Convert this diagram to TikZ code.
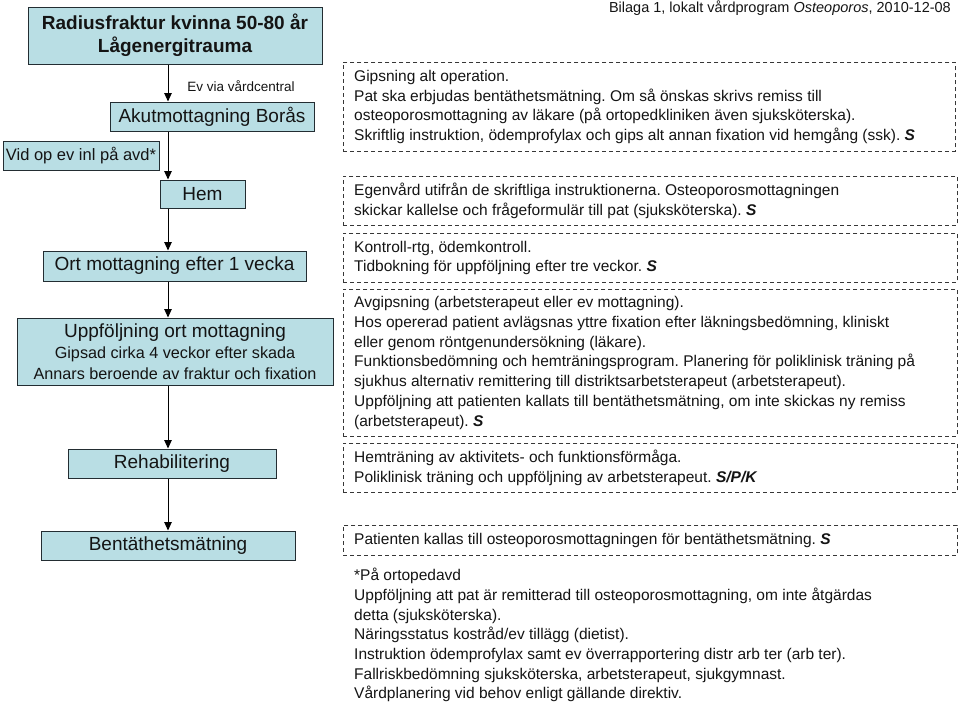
\documentclass[tikz,border=0pt]{standalone}
\usepackage{fontspec}
\setmainfont{Liberation Sans}
\usetikzlibrary{arrows.meta}
\definecolor{boxfill}{RGB}{185,222,228}
\definecolor{boxline}{RGB}{35,45,50}
\definecolor{dashline}{RGB}{55,55,55}
\definecolor{txt}{RGB}{20,20,20}
\frenchspacing
\begin{document}
\begin{tikzpicture}[x=1pt,y=-1pt,
  flow/.style={draw=boxline, fill=boxfill, line width=1pt, inner sep=0pt, align=center, text=txt,
    font=\fontsize{19}{22}\selectfont},
  dframe/.style={draw=dashline, line width=0.9pt, dash pattern=on 4pt off 3pt, inner sep=0pt},
  dtext/.style={anchor=west, align=left, inner xsep=11pt, inner ysep=0pt, text=txt,
    font=\fontsize{15.5}{19.7}\selectfont},
  arr/.style={draw=black, line width=1pt, -{Triangle[length=8.5pt,width=7.5pt]}}
]
\useasboundingbox (0,0) rectangle (960,704);
\coordinate (spine) at (168,0);

% left flow boxes
\node[flow, minimum width=294, minimum height=57, font=\bfseries\fontsize{19}{23}\selectfont] (title) at (175,35.5)
  {\raisebox{-1.5pt}{Radiusfraktur kvinna 50-80 år}\\\raisebox{-1.5pt}{Lågenergitrauma}};
\node[flow, minimum width=204, minimum height=29] (akut) at (212,116.5) {Akutmottagning Borås};
\node[flow, minimum width=156, minimum height=29, font=\fontsize{16.5}{20}\selectfont] (vid) at (81,155.5) {Vid op ev inl på avd*};
\node[flow, minimum width=85, minimum height=28] (hem) at (202.5,194) {Hem};
\node[flow, minimum width=263, minimum height=30] (ort) at (174.5,266) {Ort mottagning efter 1 vecka};
\node[flow, minimum width=316, minimum height=67, font=\fontsize{16.2}{21}\selectfont] (upp) at (175,351.5)
  {{\fontsize{19}{21}\selectfont Uppföljning ort mottagning}\\Gipsad cirka 4 veckor efter skada\\Annars beroende av fraktur och fixation};
\node[flow, minimum width=208, minimum height=29] (rehab) at (172,463.5) {Rehabilitering};
\node[flow, minimum width=254, minimum height=29] (bent) at (168,545.5) {Bentäthetsmätning};

\node[text=txt, font=\fontsize{13.5}{16}\selectfont, inner sep=0pt] (ev) at (241,86) {Ev via vårdcentral};

% connectors
\draw[arr] (title.south -| spine) -- (akut.north -| spine);
\draw[arr] (akut.south -| spine) -- (hem.north -| spine);
\draw[arr] (hem.south -| spine) -- (ort.north -| spine);
\draw[arr] (ort.south -| spine) -- (upp.north -| spine);
\draw[arr] (upp.south -| spine) -- (rehab.north -| spine);
\draw[arr] (rehab.south -| spine) -- (bent.north -| spine);

% header
\node[anchor=east, text=txt, font=\fontsize{14.5}{16}\selectfont, inner sep=0pt] (bilaga) at (951,8)
  {Bilaga 1, lokalt vårdprogram \textit{Osteoporos}, 2010-12-08};

% dashed boxes
\node[dframe, anchor=north west, minimum width=612, minimum height=89] (d1) at (343,62) {};
\node[dtext] (t1) at (d1.west) {Gipsning alt operation.\\
Pat ska erbjudas bentäthetsmätning. Om så önskas skrivs remiss till\\
osteoporosmottagning av läkare (på ortopedkliniken även sjuksköterska).\\
Skriftlig instruktion, ödemprofylax och gips alt annan fixation vid hemgång (ssk). \textbf{\textit{S}}};

\node[dframe, anchor=north west, minimum width=614, minimum height=49] (d2) at (343,176) {};
\node[dtext] (t2) at (d2.west) {Egenvård utifrån de skriftliga instruktionerna. Osteoporosmottagningen\\
skickar kallelse och frågeformulär till pat (sjuksköterska). \textbf{\textit{S}}};

\node[dframe, anchor=north west, minimum width=614, minimum height=49] (d3) at (343,233) {};
\node[dtext] (t3) at (d3.west) {Kontroll-rtg, ödemkontroll.\\
Tidbokning för uppföljning efter tre veckor. \textbf{\textit{S}}};

\node[dframe, anchor=north west, minimum width=614, minimum height=147] (d4) at (343,289) {};
\node[dtext] (t4) at (d4.west) {Avgipsning (arbetsterapeut eller ev mottagning).\\
Hos opererad patient avlägsnas yttre fixation efter läkningsbedömning, kliniskt\\
eller genom röntgenundersökning (läkare).\\
Funktionsbedömning och hemträningsprogram. Planering för poliklinisk träning på\\
sjukhus alternativ remittering till distriktsarbetsterapeut (arbetsterapeut).\\
Uppföljning att patienten kallats till bentäthetsmätning, om inte skickas ny remiss\\
(arbetsterapeut). \textbf{\textit{S}}};

\node[dframe, anchor=north west, minimum width=614, minimum height=49] (d5) at (343,443) {};
\node[dtext] (t5) at (d5.west) {Hemträning av aktivitets- och funktionsförmåga.\\
Poliklinisk träning och uppföljning av arbetsterapeut. \textbf{\textit{S/P/K}}};

\node[dframe, anchor=north west, minimum width=614, minimum height=30] (d6) at (343,525) {};
\node[dtext] (t6) at (d6.west) {Patienten kallas till osteoporosmottagningen för bentäthetsmätning. \textbf{\textit{S}}};

% footnote text
\node[anchor=north west, align=left, inner sep=0pt, text=txt, font=\fontsize{15.5}{19.7}\selectfont] (foot) at (354,568)
{*På ortopedavd\\
Uppföljning att pat är remitterad till osteoporosmottagning, om inte åtgärdas\\
detta (sjuksköterska).\\
Näringsstatus kostråd/ev tillägg (dietist).\\
Instruktion ödemprofylax samt ev överrapportering distr arb ter (arb ter).\\
Fallriskbedömning sjuksköterska, arbetsterapeut, sjukgymnast.\\
Vårdplanering vid behov enligt gällande direktiv.};
\end{tikzpicture}
\end{document}
